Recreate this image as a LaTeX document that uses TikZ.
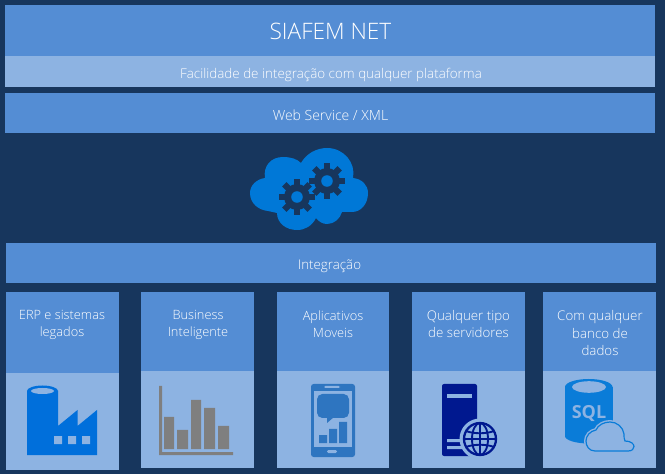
\documentclass[tikz,border=0pt]{standalone}
\usepackage{fontspec}
\setmainfont{Open Sans Light}
\newfontfamily\sqlfont{Open Sans}
\definecolor{bgnavy}{HTML}{17365D}
\definecolor{midblue}{HTML}{548DD4}
\definecolor{paleblue}{HTML}{8DB3E2}
\definecolor{cloudblue}{HTML}{0078D7}
\definecolor{factoryblue}{HTML}{006FDB}
\definecolor{chartgrey}{HTML}{7F7F7F}
\definecolor{phoneblue}{HTML}{2E75C0}
\definecolor{serverblue}{HTML}{00188F}
\definecolor{sqlblue}{HTML}{0A7CD8}
\tikzset{
  lbl/.style={text=white,inner sep=0pt,align=center,font=\fontsize{9.6pt}{13pt}\selectfont},
  lblwide/.style={lbl,font=\fontsize{10pt}{13pt}\selectfont},
}
\newcommand{\gear}[4]{% x y rout color-of-hole
  \fill[bgnavy] (#1,#2) circle (#3*0.72);
  \foreach \a in {0,45,...,315}{
    \fill[bgnavy,rotate around={\a:(#1,#2)}] (#1-#3*0.17,#2) rectangle (#1+#3*0.17,#2-#3);
  }
  \fill[#4] (#1,#2) circle (#3*0.32);
}
\begin{document}
\begin{tikzpicture}[x=0.75pt,y=-0.75pt]
\useasboundingbox (0,0) rectangle (665,474);
\fill[bgnavy] (0,0) rectangle (665,474);
% top bars
\fill[midblue] (5,5) rectangle (655,56);
\fill[paleblue] (5,56) rectangle (655,87);
\fill[midblue] (5,93) rectangle (655,133);
\fill[midblue] (6,243) rectangle (656,283);
\node[lbl,font=\fontsize{17pt}{20pt}\selectfont] (title) at (330.5,31) {SIAFEM NET};
\node[lbl,font=\fontsize{10.05pt}{13pt}\selectfont] (sub) at (331,74.5) {Facilidade de integração com qualquer plataforma};
\node[lbl,font=\fontsize{10.5pt}{13pt}\selectfont] (ws) at (330.5,115) {Web Service / XML};
\node[lblwide] (int) at (329.5,266) {Integração};
% cloud
\fill[cloudblue] (250,193)
  .. controls (250,185) and (257,179) .. (265,178)
  .. controls (263,166) and (271,157) .. (283,157)
  .. controls (291,157) and (297,159) .. (301,163)
  .. controls (306,154) and (316,148) .. (327,148)
  .. controls (344,148) and (356,163) .. (353,178)
  .. controls (362,179) and (368,185) .. (368,193)
  .. controls (368,204) and (361,212) .. (352,212)
  -- (342,212)
  .. controls (340,219) and (334,224) .. (327,224)
  .. controls (323,224) and (319,222) .. (316,218)
  .. controls (312,226) and (305,230) .. (297,230)
  .. controls (286,230) and (277,223) .. (277,213)
  -- (268,211)
  .. controls (258,210) and (250,203) .. (250,193) -- cycle;
\gear{297}{197}{18}{cloudblue}
\gear{327}{181}{18}{cloudblue}
% columns
\fill[midblue] (6,292) rectangle (119,373);
\fill[paleblue] (6,373) rectangle (119,470);
\fill[midblue] (141,292) rectangle (254,371);
\fill[paleblue] (141,371) rectangle (254,468);
\fill[midblue] (277,292) rectangle (389,371);
\fill[paleblue] (277,371) rectangle (389,468);
\fill[midblue] (412,292) rectangle (525,371);
\fill[paleblue] (412,371) rectangle (525,468);
\fill[midblue] (543,292) rectangle (656,371);
\fill[paleblue] (543,371) rectangle (656,468);
\node[lbl] (c1) at (62,325) {ERP e sistemas\\legados};
\node[lbl] (c2) at (198,325) {Business\\Inteligente};
\node[lbl] (c3) at (333,324) {Aplicativos\\Moveis};
\node[lblwide] (c4) at (468.5,324) {Qualquer tipo\\de servidores};
\node[lblwide] (c5) at (600,333) {Com qualquer\\banco de\\dados};
% factory
\fill[factoryblue] (27,391) -- (27,455) -- (97,455) -- (97,410) -- (77.5,426) -- (77.5,410) -- (58,426) -- (58,391) -- cycle;
\fill[factoryblue] (42.5,391) ellipse (15.5 and 5.5);
\fill[paleblue] (42.5,391) ellipse (11.5 and 3);
\fill[paleblue] (54,436) rectangle (62,444) (68,436) rectangle (76,444) (82,436) rectangle (90,444);
% chart
\fill[chartgrey] (159,386) rectangle (162,455) (159,452) rectangle (233,455);
\fill[chartgrey] (164,417) rectangle (174,449) (177,430) rectangle (188,449) (191,400) rectangle (201,449) (204,408) rectangle (215,449) (218,426) rectangle (229,449);
% phone
\fill[phoneblue,rounded corners=2] (311,384) rectangle (355,457);
\fill[paleblue] (314,391) rectangle (352,447);
\fill[paleblue,rounded corners=1] (324,386) rectangle (340,388);
\fill[paleblue,rounded corners=1] (327,450) rectangle (337,453);
\fill[phoneblue,rounded corners=4] (317,394) rectangle (349,418);
\fill[phoneblue] (327,417) -- (327,423) -- (334,417) -- cycle;
\fill[phoneblue] (319,435) rectangle (327,443) (329,429) rectangle (337,443) (339,422) rectangle (347,443);
% server
\fill[serverblue,rounded corners=1.5] (442,384) rectangle (477,456);
\fill[paleblue] (447,394) rectangle (472,398);
\fill[paleblue] (447,439) rectangle (470,442) (447,446) rectangle (470,449);
\fill[paleblue] (480,439) circle (20.5);
\draw[serverblue,line width=1.7pt] (480,439) circle (16);
\begin{scope}
\clip (480,439) circle (16);
\draw[serverblue,line width=1.4pt] (464,439) -- (496,439);
\draw[serverblue,line width=1.4pt] (480,423) -- (480,455);
\draw[serverblue,line width=1.4pt] (480,439) ellipse (8 and 16);
\draw[serverblue,line width=1.4pt] (466,431) .. controls (474,434) and (486,434) .. (494,431);
\draw[serverblue,line width=1.4pt] (466,447) .. controls (474,444) and (486,444) .. (494,447);
\end{scope}
% sql
\fill[sqlblue] (565,387) rectangle (612.5,436);
\fill[sqlblue] (588.75,436) ellipse (23.75 and 7.5);
\fill[sqlblue] (588.75,387) ellipse (23.75 and 8);
\fill[paleblue] (589,387) ellipse (17 and 5.8);
\node[inner sep=0pt,text=paleblue,font=\sqlfont\fontsize{13.5pt}{13.5pt}\selectfont\bfseries] (sql) at (589,414) {SQL};
\path[fill=paleblue,preaction={draw=paleblue,line width=3pt},draw=sqlblue,line width=0.9pt]
  (595,451) .. controls (589,451) and (586,446) .. (586,441)
  .. controls (586,436) and (590,431) .. (596,430)
  .. controls (598,425) and (604,422) .. (610,422)
  .. controls (617,422) and (623,427) .. (624,434)
  .. controls (624,437) and (624,439) .. (625,441)
  .. controls (631,441) and (634,444) .. (634,446.5)
  .. controls (634,449) and (632,451) .. (628,451) -- cycle;
\end{tikzpicture}
\end{document}
